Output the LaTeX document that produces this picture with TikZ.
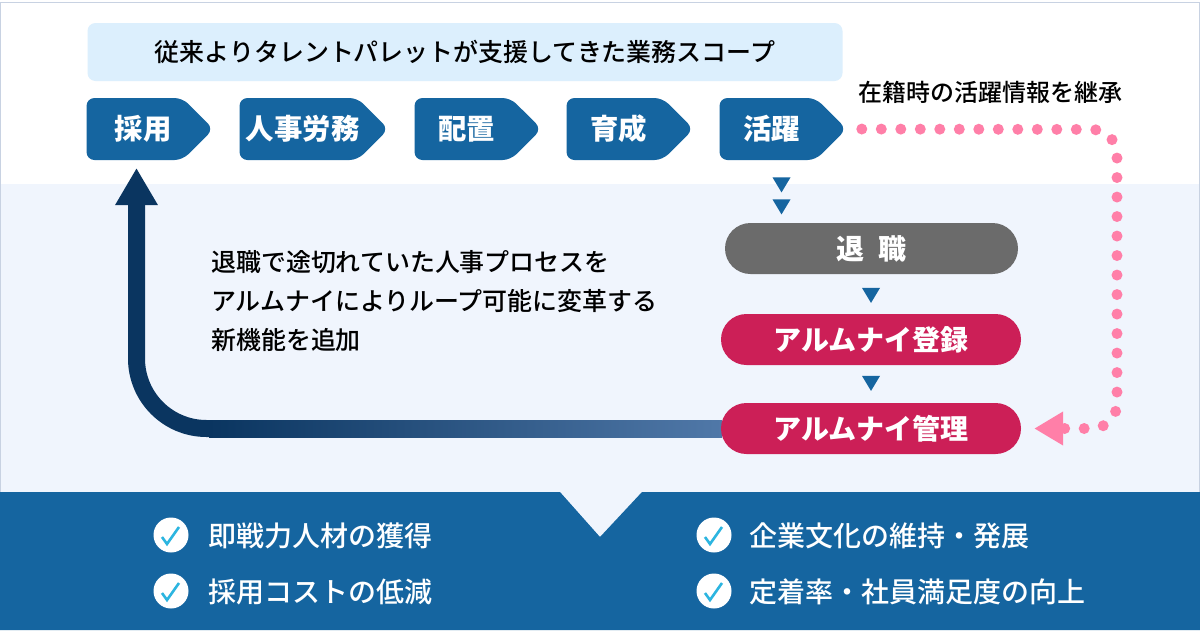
\documentclass[tikz,border=0pt]{standalone}
\usepackage{fontspec}
\setmainfont{Noto Sans CJK JP}
\newfontfamily\medfont{Noto Sans CJK JP Medium}
\usetikzlibrary{arrows.meta,shapes.geometric,shapes.symbols}
\definecolor{navy}{HTML}{1565A0}
\definecolor{deepnavy}{HTML}{0A3560}
\definecolor{fadenavy}{HTML}{5078A8}
\definecolor{paleblue}{HTML}{DCEFFD}
\definecolor{paleband}{HTML}{F0F5FD}
\definecolor{framegray}{HTML}{C8D2E2}
\definecolor{dotpink}{HTML}{FF7FA8}
\definecolor{alumred}{HTML}{CC1F57}
\definecolor{leavegray}{HTML}{6B6B6B}
\definecolor{tickblue}{HTML}{2CB5E0}
\newcommand{\steptext}[2][8.5pt]{\makebox[0pt]{\hspace{#1}#2}}
\begin{document}
\begin{tikzpicture}[
      x=1pt, y=-1pt,
      every node/.style={inner sep=0pt},
      lead/.style={font=\fontsize{24.95}{30}\medfont, text=black},
      stepbox/.style={signal, signal to=east, signal pointer angle=90, fill=navy,
                      rounded corners=8pt, minimum height=62pt, text=white,
                      font=\fontsize{28.4}{34}\bfseries},
      pill/.style={draw=none, rounded corners=25.5pt, minimum width=300pt, minimum height=51pt,
                   text=white, font=\fontsize{28}{34}\bfseries},
      drop/.style={isosceles triangle, isosceles triangle stretches, shape border rotate=-90,
                   minimum width=18pt, minimum height=15pt, fill=navy},
      tickdisc/.style={circle, fill=white, minimum size=35pt},
      gain/.style={anchor=west, text=white, font=\fontsize{28}{34}\medfont},
    ]
    \useasboundingbox (0,0) rectangle (1200,630);

    % --- bands ---
    \fill[white] (0,0) rectangle (1200,184);
    \fill[paleband] (0,184) rectangle (1200,540);
    \draw[framegray, line width=1pt] (0.5,630) -- (0.5,2.5) -- (1199.5,2.5) -- (1199.5,630);
    \fill[navy] (0,492) -- (560,492) -- (600,537) -- (642,492) -- (1200,492) -- (1200,630) -- (0,630) -- cycle;

    % --- scope banner and steps ---
    \node[fill=paleblue, rounded corners=8pt, minimum width=755pt, minimum height=58pt,
          lead, font=\fontsize{24.95}{30}\medfont]
      (scope) at (465,52) {従来よりタレントパレットが支援してきた業務スコープ};
    \node[stepbox, minimum width=127pt] (saiyo) at (134.5,129) {\steptext[17pt]{採用}};
    \node[stepbox, minimum width=149pt] (romu) at (298.5,129) {\steptext{人事労務}};
    \node[stepbox, minimum width=127pt] (haichi) at (462.5,129) {\steptext{配置}};
    \node[stepbox, minimum width=127pt] (ikusei) at (614.5,129) {\steptext{育成}};
    \node[stepbox, minimum width=127pt] (katsuyaku) at (767.5,129) {\steptext{活躍}};

    % --- leaving and alumni ---
    \node[pill, fill=leavegray, minimum width=293pt] (taishoku) at (871.5,248.5) {退\hspace{0.5em}職\hspace{5pt}};
    \node[pill, fill=alumred] (toroku) at (871,339.5) {アルムナイ登録};
    \foreach \name/\pos in {d1/{781.5,182.5}, d2/{781.5,204.5}, d3/{871,293}, d4/{871,381}} {
      \node[drop] (\name) at (\pos) {};
    }

    % big loop arrow
    \coordinate (bend) at (210,428.5);
    \coordinate (looptip) at (136.5,168);
    \shade[left color=deepnavy, right color=fadenavy] (209,420) rectangle (722,437);
    \draw[deepnavy, line width=17pt, rounded corners=70pt, -{Triangle[length=37pt,width=40pt]}]
      (bend) -- (136.5,428.5) -- (looptip);
    \node[pill, fill=alumred] (kanri) at (871,428.5) {アルムナイ管理};

    % dotted line back to alumni
    \node[font=\fontsize{24}{30}\medfont] (keep) at (990,92) {在籍時の活躍情報を継承};
    \draw[dotpink, line width=11pt, line cap=round, dash pattern=on 0pt off 19.5pt, dash phase=4.5pt,
          rounded corners=25pt, shorten >=13pt, -{Triangle[length=29pt,width=32pt]}]
      (katsuyaku.east) -- (1117,129.5) -- (1117,428.5) -- (kanri.east);

    \node[lead, anchor=west] (note1) at (211,262) {退職で途切れていた人事プロセスを};
    \node[lead, anchor=west] (note2) at (211,301) {アルムナイによりループ可能に変革する};
    \node[lead, anchor=west] (note3) at (211,340) {新機能を追加};

    % --- gains ---
    \foreach \i/\cx/\tx/\cy/\txt in {1/171/208/535/即戦力人材の獲得, 2/171/208/591/採用コストの低減,
                                     3/714/749.5/535/企業文化の維持・発展, 4/714/749.5/591/定着率・社員満足度の向上} {
      \node[tickdisc] (tick\i) at (\cx,\cy) {};
      \draw[tickblue, line width=2.6pt] (\cx-9,\cy+2) -- (\cx-4,\cy+9) -- (\cx+8,\cy-8);
      \node[gain] (gain\i) at (\tx,\cy+1) {\txt};
    }
\end{tikzpicture}
\end{document}
